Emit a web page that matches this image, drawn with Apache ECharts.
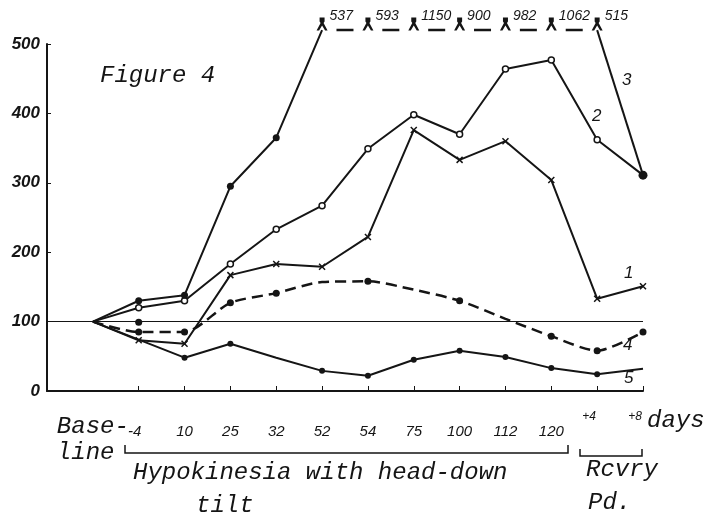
<!DOCTYPE html>
<html><head><meta charset="utf-8">
<script src="https://cdn.jsdelivr.net/npm/echarts@6/dist/echarts.min.js"></script>
<style>html,body{margin:0;padding:0;background:#fff}#c{width:709px;height:522px}</style>
</head><body><div id="c"></div>
<script>
// ---- data ----
const days = ['Baseline','-4','10','25','32','52','54','75','100','112','120','+4','+8'];
const tickLabels = ['Base-\nline','-4','10','25','32','52','54','75','100','112','120','+4','+8'];
const s1 = [100,73,68,167,183,179,222,376,333,360,304,133,151];
const s2 = [100,120,130,183,233,267,349,398,370,464,477,362,311];
const s3 = [100,130,138,295,365,537,593,1150,900,982,1062,515,311];
const s4 = [100,85,85,127,141,157,158,146,130,104,79,58,85];
const s5 = [100,74,48,68,48,29,22,45,58,49,33,24,32];
const s4NoMark = ['52','75','112'];
const s5NoMark = ['-4','32','+8'];
const loneDot = [['-4', 99]];
const yTicks = [0,100,200,300,400,500];

// ---- style constants ----
const YMAX = 500, BREAK = 520;
const INK = '#151515';
const TW = '"Liberation Mono", "DejaVu Sans Mono", monospace';
const xCats = [''].concat(days);

const pairs = (arr, a, b, f) => days.slice(a, b + 1).map((d, i) => [d, f ? f(arr[a + i]) : arr[a + i]]);
const off = s3.map((v, i) => v > YMAX ? i : -1).filter(i => i >= 0);
const firstOff = off[0], lastOff = off[off.length - 1];
const cap = v => v > YMAX ? BREAK : v;

const lambda = 'path://M3,0 L8,0 L8,4 L7,5.5 L11,13 L8.5,13 L5.5,8 L2.5,13 L0,13 L4,5.5 L3,4 Z';
const cross = 'path://M0,0 L10,10 M10,0 L0,10';

const chart = echarts.init(document.getElementById('c'), null, {renderer: 'canvas'});
const lineBase = {type: 'line', animation: false, clip: false, silent: true,
  lineStyle: {color: INK, width: 2}, itemStyle: {color: INK}};

chart.setOption({
  backgroundColor: '#fff',
  animation: false,
  grid: {left: 47, right: 66, top: 44, bottom: 131},
  xAxis: {
    type: 'category', data: xCats, boundaryGap: false,
    axisLine: {lineStyle: {color: INK, width: 2}},
    axisTick: {show: true, inside: true, length: 5, lineStyle: {color: INK, width: 1},
      interval: (i) => i >= 2},
    axisLabel: {interval: 0, margin: 21, color: INK,
      formatter: (v, i) => {
        const k = days.indexOf(v);
        if (k < 0) return '';
        const t = tickLabels[k];
        if (k === 0) return '{tw|Base-}\n{tw|line}';
        if (t[0] === '+') return '{s|' + t + '}';
        if (k === 1) return '{m|' + t + '}';
        return '{n|' + t + '}';
      },
      rich: {
        tw: {fontFamily: TW, fontStyle: 'italic', fontSize: 24, lineHeight: 26, align: 'left', color: INK, padding: [3, 0, 0, 0]},
        n: {fontFamily: 'Liberation Sans', fontStyle: 'italic', fontSize: 15, lineHeight: 40, color: INK},
        m: {fontFamily: 'Liberation Sans', fontStyle: 'italic', fontSize: 15, lineHeight: 40, color: INK, padding: [0, 8, 0, 0]},
        s: {fontFamily: 'Liberation Sans', fontStyle: 'italic', fontSize: 12, lineHeight: 10, color: INK, padding: [0, 16, 0, 0]}
      }
    },
    splitLine: {show: false}
  },
  yAxis: {
    type: 'value', min: 0, max: YMAX, interval: 100,
    axisLine: {show: true, lineStyle: {color: INK, width: 2}},
    axisTick: {show: true, inside: true, length: 4, lineStyle: {color: INK}},
    axisLabel: {margin: 7, color: INK, fontFamily: 'Liberation Sans', fontStyle: 'italic', fontWeight: 'bold', fontSize: 17,
      formatter: v => yTicks.indexOf(v) >= 0 ? String(v) : ''},
    splitLine: {show: false}
  },
  series: [
    Object.assign({}, lineBase, {name: 'ref', data: [], markLine: {silent: true, symbol: 'none', label: {show: false},
      lineStyle: {color: INK, width: 1.2, type: 'solid'}, data: [{yAxis: 100}]}}),
    Object.assign({}, lineBase, {name: '4', data: pairs(s4, 0, 12), smooth: 0.25,
      lineStyle: {color: INK, width: 2.5, type: [11, 6]},
      symbol: (val) => (val[0] === 'Baseline' || s4NoMark.indexOf(val[0]) >= 0) ? 'none' : 'circle', symbolSize: 7}),
    Object.assign({}, lineBase, {name: '5', data: pairs(s5, 0, 12),
      symbol: (val) => (val[0] === 'Baseline' || s5NoMark.indexOf(val[0]) >= 0) ? 'none' : 'circle', symbolSize: 6}),
    {type: 'scatter', data: loneDot, symbol: 'circle', symbolSize: 7, itemStyle: {color: INK, opacity: 1}, silent: true, animation: false},
    Object.assign({}, lineBase, {name: '1', data: pairs(s1, 0, 12),
      symbol: (val) => val[0] === 'Baseline' ? 'none' : cross, symbolSize: 6,
      itemStyle: {color: INK, borderColor: INK, borderWidth: 1.5}}),
    Object.assign({}, lineBase, {name: '2', data: pairs(s2, 0, 12),
      symbol: (val) => (val[0] === 'Baseline' || val[0] === '+8') ? 'none' : 'circle', symbolSize: 6,
      itemStyle: {color: '#fff', borderColor: INK, borderWidth: 1.5}}),
    Object.assign({}, lineBase, {name: '3a', data: pairs(s3, 0, firstOff, cap),
      symbol: (val) => (val[0] === 'Baseline' || val[1] >= BREAK) ? 'none' : 'circle', symbolSize: 7}),
    Object.assign({}, lineBase, {name: '3b', data: pairs(s3, firstOff, lastOff, cap),
      lineStyle: {color: INK, width: 2.5, type: [17, 28.85], dashOffset: 31.45},
      symbol: lambda, symbolSize: [11, 13], symbolOffset: [0, -6],
      label: {show: true, position: 'right', offset: [-3, -8], color: INK,
        fontFamily: 'Liberation Sans', fontStyle: 'italic', fontSize: 14,
        formatter: p => String(s3[firstOff + p.dataIndex])}}),
    Object.assign({}, lineBase, {name: '3c', data: pairs(s3, lastOff, 12, cap),
      symbol: (val) => val[1] >= BREAK ? 'none' : 'circle', symbolSize: 9})
  ],
  graphic: [
    {type: 'text', left: 100, top: 64, style: {text: 'Figure 4', font: 'italic 24px ' + TW, fill: INK}},
    {type: 'text', left: 647, top: 409, style: {text: 'days', font: 'italic 24px ' + TW, fill: INK}},
    {type: 'text', left: 133, top: 461, style: {text: 'Hypokinesia with head-down', font: 'italic 24px ' + TW, fill: INK}},
    {type: 'text', left: 196, top: 494, style: {text: 'tilt', font: 'italic 24px ' + TW, fill: INK}},
    {type: 'text', left: 586, top: 458, style: {text: 'Rcvry', font: 'italic 24px ' + TW, fill: INK}},
    {type: 'text', left: 588, top: 491, style: {text: 'Pd.', font: 'italic 24px ' + TW, fill: INK}},
    {type: 'polyline', shape: {points: [[125, 445], [125, 453], [568, 453], [568, 445]]}, style: {stroke: INK, lineWidth: 1.5, fill: null}},
    {type: 'polyline', shape: {points: [[580, 449], [580, 456], [642, 456], [642, 449]]}, style: {stroke: INK, lineWidth: 1.5, fill: null}},
    {type: 'text', left: 624, top: 265, style: {text: '1', font: 'italic 17px "Liberation Sans"', fill: INK}},
    {type: 'text', left: 592, top: 108, style: {text: '2', font: 'italic 17px "Liberation Sans"', fill: INK}},
    {type: 'text', left: 622, top: 72, style: {text: '3', font: 'italic 17px "Liberation Sans"', fill: INK}},
    {type: 'text', left: 623, top: 337, style: {text: '4', font: 'italic 17px "Liberation Sans"', fill: INK}},
    {type: 'text', left: 624, top: 370, style: {text: '5', font: 'italic 17px "Liberation Sans"', fill: INK}}
  ]
});
</script>
</body></html>
